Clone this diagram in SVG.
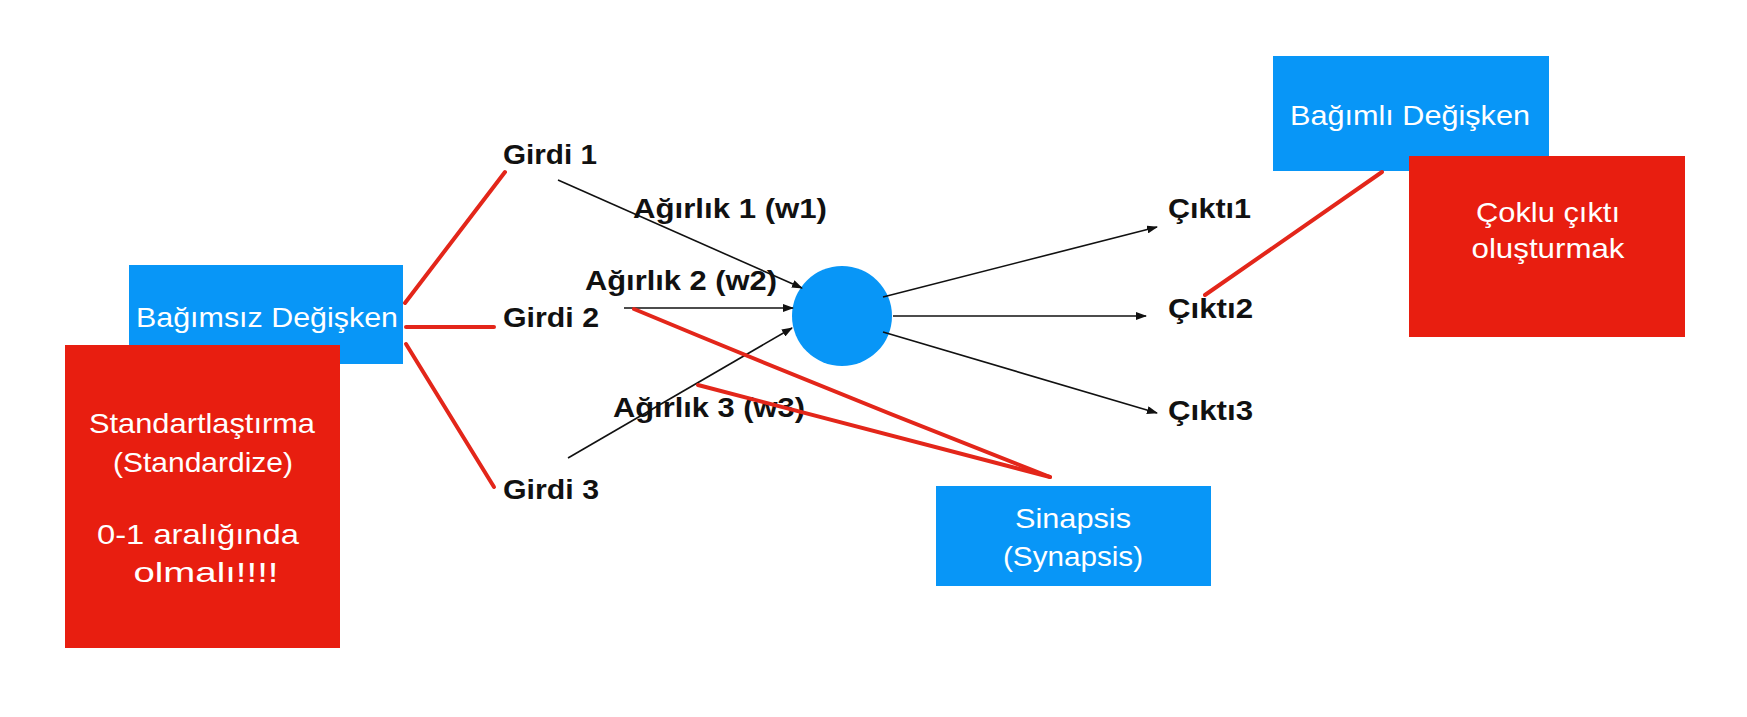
<svg xmlns="http://www.w3.org/2000/svg" width="1747" height="717" viewBox="0 0 1747 717">
<style>
.blue{fill:#0896f7}
.red{fill:#e81e10}
.lbl{font-family:"Liberation Sans",Arial,sans-serif;font-weight:bold;font-size:28px;fill:#111}
.wt{font-family:"Liberation Sans",Arial,sans-serif;font-size:28px;fill:#fff;text-anchor:middle}
.ar{stroke:#111;stroke-width:1.6;fill:none;marker-end:url(#ah)}
.ann{stroke:#e3261a;stroke-width:4;fill:none;stroke-linecap:round}
</style>
<defs>
<marker id="ah" markerUnits="userSpaceOnUse" markerWidth="11" markerHeight="8" refX="10" refY="4" orient="auto">
<path d="M0,0 L11,4 L0,8 z" fill="#111"/>
</marker>
</defs>
<rect width="1747" height="717" fill="#fff"/>

<g id="bagimsiz">
<rect class="blue" x="129" y="265" width="274" height="99"/>
<text class="wt" x="267" y="327" textLength="262" lengthAdjust="spacingAndGlyphs">Bağımsız Değişken</text>
</g>
<g id="standart">
<rect class="red" x="65" y="345" width="275" height="303"/>
<text class="wt" x="202" y="433" textLength="226" lengthAdjust="spacingAndGlyphs">Standartlaştırma</text>
<text class="wt" x="203" y="472" textLength="180" lengthAdjust="spacingAndGlyphs">(Standardize)</text>
<text class="wt" x="198" y="544" textLength="202" lengthAdjust="spacingAndGlyphs">0-1 aralığında</text>
<text class="wt" x="206" y="582" textLength="145" lengthAdjust="spacingAndGlyphs">olmalı!!!!</text>
</g>

<g id="girdi1"><text class="lbl" x="503" y="164" textLength="94" lengthAdjust="spacingAndGlyphs">Girdi 1</text></g>
<g id="girdi2"><text class="lbl" x="503" y="327" textLength="96" lengthAdjust="spacingAndGlyphs">Girdi 2</text></g>
<g id="girdi3"><text class="lbl" x="503" y="499" textLength="96" lengthAdjust="spacingAndGlyphs">Girdi 3</text></g>

<g id="w1"><text class="lbl" x="633" y="218" textLength="194" lengthAdjust="spacingAndGlyphs">Ağırlık 1 (w1)</text></g>
<g id="w2"><text class="lbl" x="585" y="290" textLength="192" lengthAdjust="spacingAndGlyphs">Ağırlık 2 (w2)</text></g>
<g id="w3"><text class="lbl" x="613" y="417" textLength="192" lengthAdjust="spacingAndGlyphs">Ağırlık 3 (w3)</text></g>

<g id="neuron"><circle class="blue" cx="842" cy="316" r="50"/></g>

<g id="cikti1"><text class="lbl" x="1168" y="218" textLength="83" lengthAdjust="spacingAndGlyphs">Çıktı1</text></g>
<g id="cikti2"><text class="lbl" x="1168" y="318" textLength="85" lengthAdjust="spacingAndGlyphs">Çıktı2</text></g>
<g id="cikti3"><text class="lbl" x="1168" y="420" textLength="85" lengthAdjust="spacingAndGlyphs">Çıktı3</text></g>

<g id="bagimli">
<rect class="blue" x="1273" y="56" width="276" height="115"/>
<text class="wt" x="1410" y="125" textLength="240" lengthAdjust="spacingAndGlyphs">Bağımlı Değişken</text>
</g>
<g id="coklu">
<rect class="red" x="1409" y="156" width="276" height="181"/>
<text class="wt" x="1548" y="222" textLength="144" lengthAdjust="spacingAndGlyphs">Çoklu çıktı</text>
<text class="wt" x="1548" y="258" textLength="153" lengthAdjust="spacingAndGlyphs">oluşturmak</text>
</g>

<g id="sinapsis">
<rect class="blue" x="936" y="486" width="275" height="100"/>
<text class="wt" x="1073" y="528" textLength="116" lengthAdjust="spacingAndGlyphs">Sinapsis</text>
<text class="wt" x="1073" y="566" textLength="140" lengthAdjust="spacingAndGlyphs">(Synapsis)</text>
</g>

<g id="connectors">
<line class="ar" x1="558" y1="180" x2="802" y2="288"/>
<line class="ar" x1="624" y1="308" x2="793" y2="308"/>
<line class="ar" x1="568" y1="458" x2="792" y2="328"/>
<line class="ar" x1="883" y1="297" x2="1157" y2="227"/>
<line class="ar" x1="893" y1="316" x2="1146" y2="316"/>
<line class="ar" x1="883" y1="332" x2="1157" y2="413"/>
</g>

<g id="annotations">
<path class="ann" d="M405,303 L505,172"/>
<path class="ann" d="M406,327 L494,327"/>
<path class="ann" d="M406,344 L494,487"/>
<path class="ann" d="M634,309 Q840,395 1050,477"/>
<path class="ann" d="M698,385 L1050,477"/>
<path class="ann" d="M1205,295 L1382,172"/>
</g>
</svg>
